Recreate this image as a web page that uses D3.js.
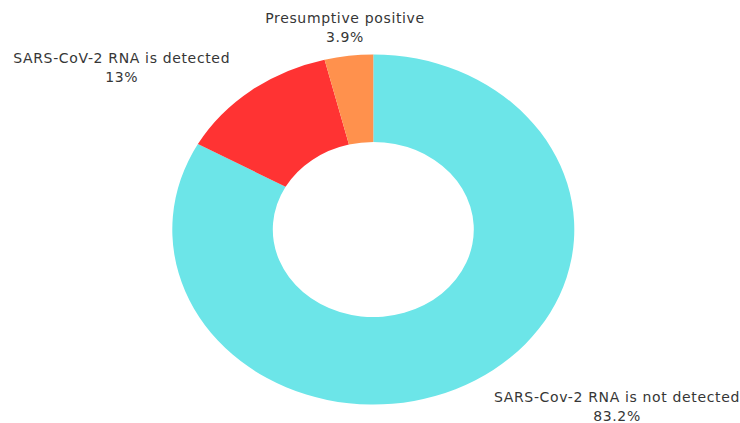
<!DOCTYPE html>
<html>
<head>
<meta charset="utf-8">
<script src="https://cdn.jsdelivr.net/npm/d3@7"></script>
<style>
  html, body { margin: 0; padding: 0; background: #ffffff; }
  svg text { font-family: "DejaVu Sans", sans-serif; font-size: 14px; letter-spacing: 0.65px; fill: #363636; }
</style>
</head>
<body>
<svg id="chart" width="740" height="423"></svg>
<script>
// Test result shares (percent), clockwise from 12 o'clock
const categories = ["SARS-Cov-2 RNA is not detected", "SARS-CoV-2 RNA is detected", "Presumptive positive"];
const values = [83.2, 13, 3.9];
const valueLabels = ["83.2%", "13%", "3.9%"];
const colors = ["#6ce5e8", "#ff3333", "#ff914d"];

const svg = d3.select("#chart");
const cx = 373.3, cy = 229.5;
const outerR = 201, innerR = 100.5;
const squash = 0.871;

const pie = d3.pie().sort(null).value(d => d.value);
const arc = d3.arc().innerRadius(innerR).outerRadius(outerR);
const data = categories.map((c, i) => ({ name: c, value: values[i], label: valueLabels[i], color: colors[i] }));
const arcs = pie(data);

const g = svg.append("g").attr("transform", `translate(${cx},${cy}) scale(1,${squash})`);
g.selectAll("path")
  .data(arcs)
  .join("path")
  .attr("d", arc)
  .attr("fill", d => d.data.color);

// Label anchors placed outside the ring, near each slice
const labelPos = [
  { x: 617, y: 402.3 },
  { x: 121.7, y: 62.7 },
  { x: 345, y: 22.7 }
];
const labels = svg.append("g");
arcs.forEach((a, i) => {
  const t = labels.append("text")
    .attr("x", labelPos[i].x)
    .attr("y", labelPos[i].y)
    .attr("text-anchor", "middle");
  t.append("tspan").attr("x", labelPos[i].x).text(a.data.name);
  t.append("tspan").attr("x", labelPos[i].x).attr("dy", 19).text(a.data.label);
});
</script>
</body>
</html>
